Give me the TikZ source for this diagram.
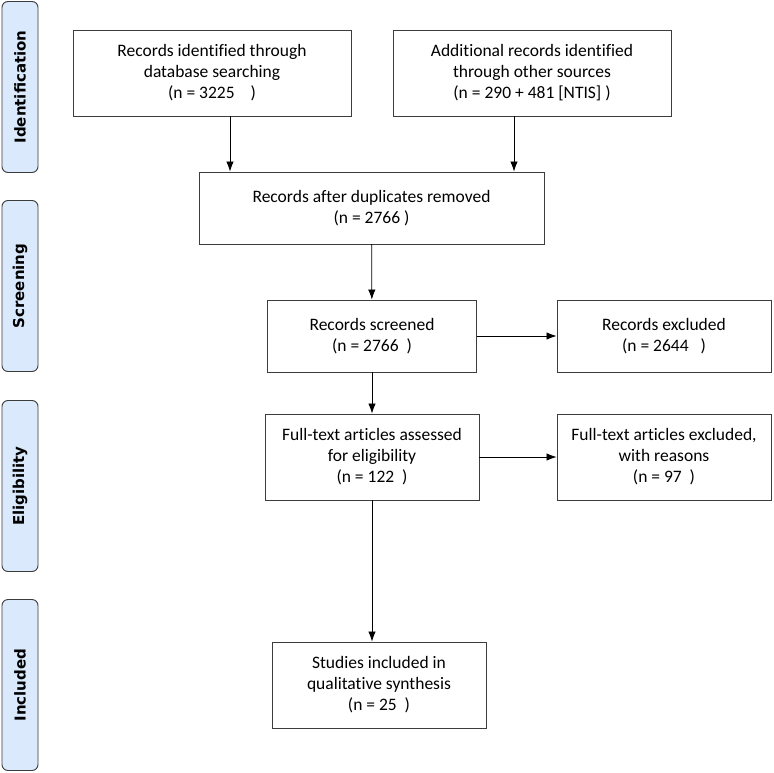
\documentclass[tikz,border=0pt]{standalone}
\usepackage{fontspec}
\setmainfont{Carlito}[Ligatures=NoCommon]
\newfontfamily\phasefont{DejaVu Sans}
\usepackage{tikz}
\usetikzlibrary{arrows.meta,shapes}
\definecolor{phaseblue}{RGB}{218,233,251}
\definecolor{boxline}{RGB}{60,60,60}
\tikzstyle{record}=[rectangle, draw=boxline
,line width=0.9pt
,align=center
,inner sep=0pt
,font=\fontsize{17.5}{21}\selectfont
]
\tikzstyle{phase}=[rectangle, rounded corners=6pt, draw=boxline, fill=phaseblue
,line width=0.9pt
,minimum width=36pt
,minimum height=171pt
,inner sep=0pt
]
\tikzstyle{flow} = [draw,line width=0.8pt,-{Latex[length=10pt,width=7.5pt]}]

\begin{document}
\begin{tikzpicture}[x=1pt,y=1pt]
    \useasboundingbox (0,0) rectangle (773,-773);
    % Phase bars on the left
    \foreach \pos/\name/\lab in {{(20,-87)/P_1/Identification}, {(20,-286)/P_2/Screening}, {(20,-486)/P_3/Eligibility}, {(20,-685)/P_4/Included}}
        \node[phase] (\name) at \pos {};
    \foreach \name/\lab in {P_1/Identification, P_2/Screening, P_3/Eligibility, P_4/Included}
        \node[rotate=90, font=\phasefont\bfseries\fontsize{15}{18}\selectfont] at (\name) {\lab};

    % Then the records boxes
    \node[record, minimum width=278pt, minimum height=86pt] (ident) at (212,-73)
        {Records identified through\\database searching\\(n = 3225\ \ \ \ )};
    \node[record, minimum width=278pt, minimum height=86pt] (addit) at (532,-73)
        {Additional records identified\\through other sources\\(n = 290 + 481 [NTIS] )};
    \node[record, minimum width=345pt, minimum height=72pt] (dup) at (371.5,-208)
        {Records after duplicates removed\\(n = 2766 )};
    \node[record, minimum width=209pt, minimum height=72pt] (screened) at (372,-336)
        {Records screened\\(n = 2766\ \ )};
    \node[record, minimum width=214pt, minimum height=72pt] (excl) at (664,-336)
        {Records excluded\\(n = 2644\ \ \ )};
    \node[record, minimum width=214pt, minimum height=86pt] (assessed) at (372,-457)
        {Full-text articles assessed\\for eligibility\\(n = 122\ \ )};
    \node[record, minimum width=214pt, minimum height=86pt] (exclfull) at (664,-457)
        {Full-text articles excluded,\\with reasons\\(n = 97\ \ )};
    \node[record, minimum width=214pt, minimum height=86pt] (studies) at (379,-685)
        {Studies included in\\qualitative synthesis\\(n = 25\ \ )};

    % Connect boxes with arrows
    \path[flow] ([xshift=18pt]ident.south) -- ([xshift=18pt]ident.south |- dup.north);
    \path[flow] ([xshift=-18pt]addit.south) -- ([xshift=-18pt]addit.south |- dup.north);
    \foreach \source/ \dest in {dup/screened, screened/assessed, screened/excl, assessed/exclfull}
        \path[flow] (\source) -- (\dest);
    \path[flow] (assessed.south) -- (assessed.south |- studies.north);
\end{tikzpicture}
\end{document}
